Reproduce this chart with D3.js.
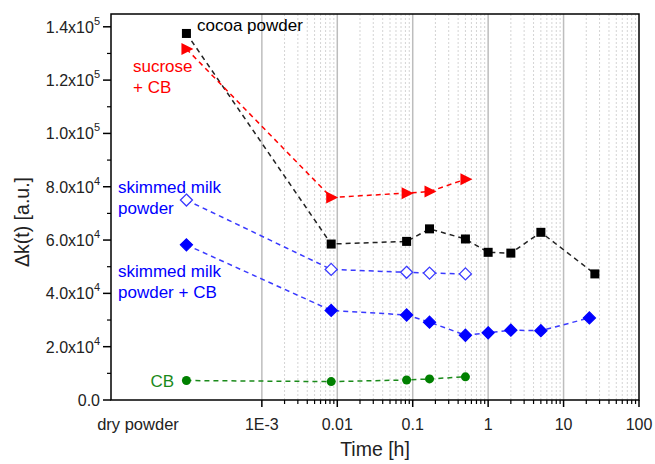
<!DOCTYPE html>
<html>
<head>
<meta charset="utf-8">
<script src="https://cdn.jsdelivr.net/npm/d3@7"></script>
<style>
  body { margin: 0; background: #fff; }
  svg { display: block; font-family: "Liberation Sans", Arial, sans-serif; }
</style>
</head>
<body>
<div id="chart"></div>
<script>
// "dry powder" is drawn at this time position on the log axis
const DRY = 1e-4;

const cocoaT = [DRY, 0.0083, 0.083, 0.167, 0.5, 1, 2, 5, 26];
const cocoaV = [137500, 58500, 59500, 64200, 60400, 55400, 55100, 62900, 47300];

const sucroseT = [DRY, 0.0083, 0.083, 0.167, 0.5];
const sucroseV = [131700, 76000, 77600, 78200, 82800];

const milkT = [DRY, 0.0083, 0.083, 0.167, 0.5];
const milkV = [75000, 49000, 47900, 47600, 47300];

const milkCbT = [DRY, 0.0083, 0.083, 0.167, 0.5, 1, 2, 5, 22];
const milkCbV = [58200, 33600, 31900, 29200, 24300, 25200, 26200, 26000, 30800];

const cbT = [DRY, 0.0083, 0.083, 0.167, 0.5];
const cbV = [7300, 6900, 7500, 7900, 8700];

const xTicks = [1e-3, 1e-2, 1e-1, 1, 10, 100];
const xTickLabels = ["1E-3", "0.01", "0.1", "1", "10", "100"];
const yTicks = [0, 20000, 40000, 60000, 80000, 100000, 120000, 140000];
const yTickMant = ["0.0", "2.0", "4.0", "6.0", "8.0", "1.0", "1.2", "1.4"];
const yTickExp = ["", "4", "4", "4", "4", "5", "5", "5"];

const width = 655;
const height = 464;
const margin = { top: 14, right: 16, bottom: 64, left: 111 };

const svg = d3.select("#chart")
  .append("svg")
  .attr("width", width)
  .attr("height", height);

const x = d3.scaleLog()
  .domain([1e-5, 100])
  .range([margin.left, width - margin.right]);

const y = d3.scaleLinear()
  .domain([0, 144800])
  .range([height - margin.bottom, margin.top]);

const plotTop = margin.top;
const plotBottom = height - margin.bottom;

// minor dotted grid (from 1E-3 on)
const minor = [];
for (let e = -3; e < 2; e++) {
  for (let k = 2; k <= 9; k++) minor.push(k * Math.pow(10, e));
}
svg.append("g")
  .selectAll("line")
  .data(minor)
  .join("line")
  .attr("x1", (d) => x(d)).attr("x2", (d) => x(d))
  .attr("y1", plotTop).attr("y2", plotBottom)
  .attr("stroke", "#d4d4d4")
  .attr("stroke-width", 1)
  .attr("stroke-dasharray", "2,2");

// major grid
svg.append("g")
  .selectAll("line")
  .data(xTicks.slice(0, -1))
  .join("line")
  .attr("x1", (d) => x(d)).attr("x2", (d) => x(d))
  .attr("y1", plotTop).attr("y2", plotBottom)
  .attr("stroke", "#bdbdbd")
  .attr("stroke-width", 1.5);

// frame
svg.append("rect")
  .attr("x", margin.left).attr("y", plotTop)
  .attr("width", width - margin.left - margin.right)
  .attr("height", plotBottom - plotTop)
  .attr("fill", "none")
  .attr("stroke", "#000")
  .attr("stroke-width", 1.5);

// x axis ticks
const xAxis = svg.append("g");
xAxis.selectAll(".maj")
  .data(xTicks)
  .join("line")
  .attr("class", "maj")
  .attr("x1", (d) => x(d)).attr("x2", (d) => x(d))
  .attr("y1", plotBottom).attr("y2", plotBottom + 7)
  .attr("stroke", "#000").attr("stroke-width", 1.5);
xAxis.selectAll(".min")
  .data(minor)
  .join("line")
  .attr("class", "min")
  .attr("x1", (d) => x(d)).attr("x2", (d) => x(d))
  .attr("y1", plotBottom).attr("y2", plotBottom + 4)
  .attr("stroke", "#000").attr("stroke-width", 1.2);
xAxis.selectAll("text")
  .data(xTicks)
  .join("text")
  .attr("x", (d) => x(d))
  .attr("y", plotBottom + 30)
  .attr("text-anchor", "middle")
  .style("font-size", "16px")
  .attr("fill", "#222")
  .text((d, i) => xTickLabels[i]);

svg.append("text")
  .attr("x", 138)
  .attr("y", plotBottom + 30)
  .attr("text-anchor", "middle")
  .style("font-size", "16.5px")
  .attr("fill", "#222")
  .text("dry powder");

// y axis ticks
const yAxis = svg.append("g");
yAxis.selectAll("line.maj")
  .data(yTicks)
  .join("line")
  .attr("class", "maj")
  .attr("x1", margin.left - 8).attr("x2", margin.left)
  .attr("y1", (d) => y(d)).attr("y2", (d) => y(d))
  .attr("stroke", "#000").attr("stroke-width", 1.5);
yAxis.selectAll("line.min")
  .data(d3.range(10000, 140000, 20000))
  .join("line")
  .attr("class", "min")
  .attr("x1", margin.left - 4).attr("x2", margin.left)
  .attr("y1", (d) => y(d)).attr("y2", (d) => y(d))
  .attr("stroke", "#000").attr("stroke-width", 1.2);
const yl = yAxis.selectAll("text")
  .data(yTicks)
  .join("text")
  .attr("x", margin.left - 11)
  .attr("y", (d) => y(d) + 6)
  .attr("text-anchor", "end")
  .style("font-size", "16px")
  .attr("fill", "#222");
yl.append("tspan")
  .text((d, i) => yTickExp[i] ? yTickMant[i] + "x10" : yTickMant[i]);
yl.append("tspan")
  .attr("dy", -8)
  .style("font-size", "11px")
  .text((d, i) => yTickExp[i]);

// axis titles
svg.append("text")
  .attr("x", (margin.left + width - margin.right) / 2)
  .attr("y", 456)
  .attr("text-anchor", "middle")
  .style("font-size", "19.5px")
  .attr("fill", "#222")
  .text("Time [h]");

svg.append("text")
  .attr("transform", "translate(29,222) rotate(-90)")
  .attr("text-anchor", "middle")
  .style("font-size", "19.5px")
  .attr("fill", "#222")
  .text("\u0394k(t) [a.u.]");

// series
const series = [
  { t: cbT, v: cbV, color: "#008000", line: "#1a8a1a", shape: "circle" },
  { t: milkCbT, v: milkCbV, color: "#0000ff", line: "#3a3aff", shape: "diamond" },
  { t: milkT, v: milkV, color: "#3a3aff", line: "#3a3aff", shape: "diamondOpen" },
  { t: cocoaT, v: cocoaV, color: "#000", line: "#222", shape: "square" },
  { t: sucroseT, v: sucroseV, color: "#ff0000", line: "#ff0000", shape: "triangle" }
];

const line = d3.line()
  .x((d) => x(d[0]))
  .y((d) => y(d[1]));

series.forEach((s) => {
  const pts = s.t.map((t, i) => [t, s.v[i]]);
  svg.append("path")
    .datum(pts)
    .attr("d", line)
    .attr("fill", "none")
    .attr("stroke", s.line)
    .attr("stroke-width", 1.5)
    .attr("stroke-dasharray", "5,4");

  const g = svg.append("g");
  pts.forEach((p) => {
    const cx = x(p[0]);
    const cy = y(p[1]);
    if (s.shape === "circle") {
      g.append("circle").attr("cx", cx).attr("cy", cy).attr("r", 4.5).attr("fill", s.color);
    } else if (s.shape === "square") {
      g.append("rect").attr("x", cx - 4.5).attr("y", cy - 4.5)
        .attr("width", 9).attr("height", 9).attr("fill", s.color);
    } else if (s.shape === "diamond" || s.shape === "diamondOpen") {
      const r = 6;
      g.append("path")
        .attr("d", `M${cx},${cy - r}L${cx + r},${cy}L${cx},${cy + r}L${cx - r},${cy}Z`)
        .attr("fill", s.shape === "diamond" ? s.color : "#fff")
        .attr("stroke", s.color)
        .attr("stroke-width", 1.3);
    } else if (s.shape === "triangle") {
      g.append("path")
        .attr("d", `M${cx - 5},${cy - 6}L${cx + 7},${cy}L${cx - 5},${cy + 6}Z`)
        .attr("fill", s.color);
    }
  });
});

// in-plot labels
const labels = [
  { text: ["cocoa powder"], x: 197, y: 31, color: "#000", anchor: "start" },
  { text: ["sucrose", "+ CB"], x: 133, y: 72, color: "#ff0000", anchor: "start" },
  { text: ["skimmed milk", "powder"], x: 118, y: 193, color: "#0000ff", anchor: "start" },
  { text: ["skimmed milk", "powder + CB"], x: 118, y: 277, color: "#0000ff", anchor: "start" },
  { text: ["CB"], x: 174, y: 387, color: "#1a8a1a", anchor: "end" }
];

labels.forEach((l) => {
  const t = svg.append("text")
    .attr("x", l.x)
    .attr("y", l.y)
    .attr("text-anchor", l.anchor)
    .attr("fill", l.color)
    .style("font-size", "17px");
  l.text.forEach((s, i) => {
    t.append("tspan").attr("x", l.x).attr("dy", i === 0 ? 0 : 20.5).text(s);
  });
});
</script>
</body>
</html>
